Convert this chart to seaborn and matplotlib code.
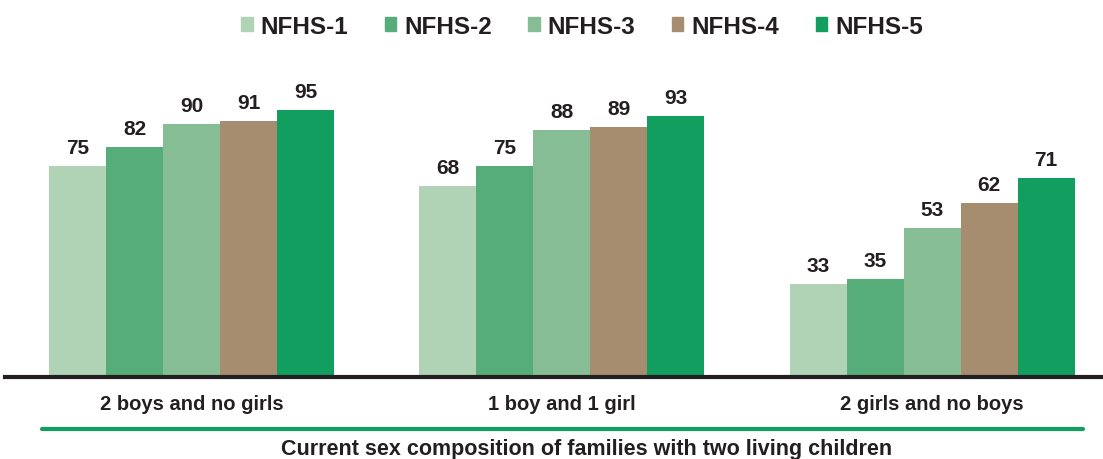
import matplotlib
matplotlib.use("Agg")
import matplotlib.pyplot as plt
import seaborn as sns
import pandas as pd
from matplotlib.lines import Line2D

categories = ["2 boys and no girls", "1 boy and 1 girl", "2 girls and no boys"]
series = ["NFHS-1", "NFHS-2", "NFHS-3", "NFHS-4", "NFHS-5"]
nfhs1 = [75, 68, 33]
nfhs2 = [82, 75, 35]
nfhs3 = [90, 88, 53]
nfhs4 = [91, 89, 62]
nfhs5 = [95, 93, 71]
colors = ["#b0d3b6", "#57ad79", "#86bd95", "#a68d6f", "#129e5e"]
xlabel = "Current sex composition of families with two living children"

sns.set_theme(style="white")
plt.rcParams['font.family'] = ['Liberation Sans', 'DejaVu Sans']

rows = []
for s, vals in zip(series, [nfhs1, nfhs2, nfhs3, nfhs4, nfhs5]):
    for c, v in zip(categories, vals):
        rows.append({"cat": c, "series": s, "value": v})
df = pd.DataFrame(rows)

fig = plt.figure(figsize=(11.03, 4.6), dpi=100)
ax = fig.add_axes([5/1103, 1-378/460, 1-5/1103, (378-60)/460])
sns.barplot(data=df, x="cat", y="value", hue="series", order=categories,
            hue_order=series, palette=colors, width=0.77, saturation=1,
            ax=ax, legend=False, linewidth=0)
for cont in ax.containers:
    ax.bar_label(cont, padding=6.5, fontsize=15, fontweight="bold", color="#231f20")
ax.set_xlim(-0.505, 2.462)
ax.set_ylim(0, 113.2)
ax.set_yticks([])
ax.set_xticks([])
ax.set_xlabel("")
ax.set_ylabel("")
for sp in ["top", "right", "left"]:
    ax.spines[sp].set_visible(False)
ax.spines["bottom"].set_linewidth(3)
ax.spines["bottom"].set_color("#231f20")

for i, c in enumerate(categories):
    ax.text(i, -9.6, c, ha="center", va="center", fontsize=14.5, fontweight="bold",
            color="#231f20", transform=ax.transData, clip_on=False)

fig.add_artist(Line2D([42/1103, 1083/1103], [1-430/460, 1-430/460], color="#129e5e", lw=3))
fig.text(587/1103, 1-450/460, xlabel, ha="center", va="center", fontsize=15.5,
         fontweight="bold", color="#231f20")

handles = [plt.Rectangle((0, 0), 1, 1, color=col) for col in colors]
fig.legend(handles, series, loc="center", bbox_to_anchor=(582/1103, 1-27/460), ncol=5,
           frameon=False, prop={"weight": "bold", "size": 17.5}, handlelength=0.47,
           handleheight=0.47, handletextpad=0.33, columnspacing=1.5,
           labelcolor="#231f20")

fig.savefig("out.png", dpi=100)
